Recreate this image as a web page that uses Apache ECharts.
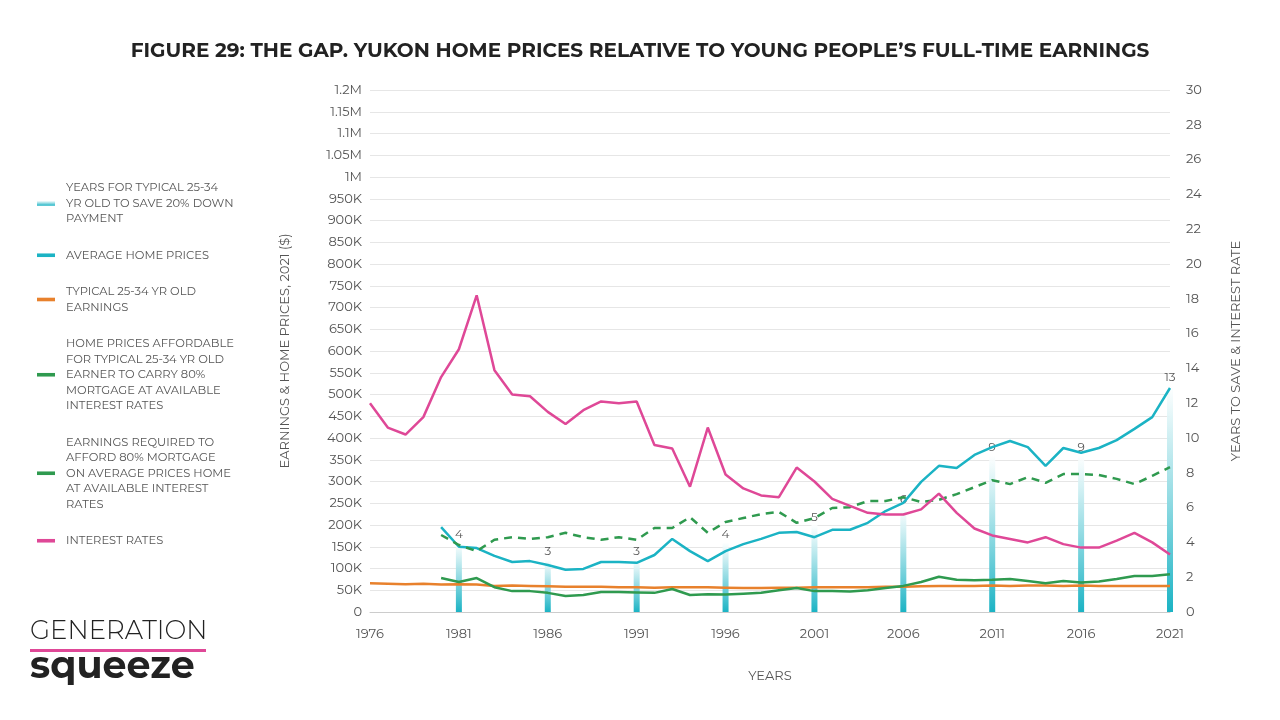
<!DOCTYPE html>
<html lang="en">
<head>
<meta charset="UTF-8">
<title>Figure 29</title>
<script src="https://cdn.jsdelivr.net/npm/echarts@6/dist/echarts.min.js"></script>
<style>
  body { margin: 0; background: #fff; }
  #main { width: 1280px; height: 720px; }
</style>
</head>
<body>
<div id="main"></div>
<script>
var years = [];
for (var y = 1976; y <= 2021; y++) years.push(String(y));

var saveYears = ['1981', '1986', '1991', '1996', '2001', '2006', '2011', '2016', '2021'];
var saveValues = [4, 3, 3, 4, 5, 6, 9, 9, 13];

var interestRates = [12.0, 10.6, 10.2, 11.2, 13.5, 15.1, 18.2, 13.9, 12.5, 12.4, 11.5, 10.8, 11.6, 12.1, 12.0, 12.1,
  9.6, 9.4, 7.2, 10.6, 7.9, 7.1, 6.7, 6.6, 8.3, 7.5, 6.5, 6.1, 5.7, 5.6, 5.6, 5.9, 6.8, 5.7, 4.8, 4.4,
  4.2, 4.0, 4.3, 3.9, 3.7, 3.7, 4.1, 4.55, 4.0, 3.3];

var homePrices = [null, null, null, null, 195, 150, 147, 129, 115, 117, 108, 97, 99, 115, 115, 113,
  131, 168, 140, 117, 140, 156, 168, 182, 184, 172, 189, 189, 205, 232, 251, 299, 336, 331, 361, 379,
  393, 379, 336, 377, 366, 377, 395, 421, 448, 515];

var affordable = [null, null, null, null, 177, 154, 140, 166, 172, 168, 172, 182, 172, 166, 172, 166,
  193, 193, 218, 182, 207, 216, 225, 230, 205, 216, 239, 241, 255, 255, 264, 253, 258, 271, 287, 303,
  294, 310, 297, 317, 317, 315, 306, 294, 313, 333];

var earningsRequired = [null, null, null, null, 78, 69, 78, 57, 48, 48, 44, 37, 39, 46, 46, 45,
  44, 53, 39, 41, 40, 42, 44, 50, 55, 48, 48, 47, 50, 55, 60, 69, 81, 74, 73, 74,
  76, 71, 66, 71, 68, 70, 76, 83, 83, 87];

var earnings = [66, 65, 64, 65, 63, 64, 63, 60, 61, 60, 59, 58, 58, 58, 57, 57, 56, 57, 57, 57, 56, 55,
  55, 56, 56, 57, 57, 57, 57, 58, 58, 59, 60, 60, 60, 61, 60, 61, 61, 60, 61, 60, 60, 60, 60, 60];

function k(arr) {
  return arr.map(function (v) { return v == null ? null : v * 1000; });
}

var barData = years.map(function (yr) {
  var i = saveYears.indexOf(yr);
  return i < 0 ? null : saveValues[i];
});

var teal = '#1bb3c4', orange = '#e8812c', green = '#2f9a4f', pink = '#df4897';
var font = 'Montserrat, "Open Sans", sans-serif';
var lineIcon = 'path://M0,0H20V4H0Z';

function fmtMoney(v) {
  if (v === 0) return '0';
  if (v >= 1000000) return (v / 1000000) + 'M';
  return (v / 1000) + 'K';
}

var myChart = echarts.init(document.getElementById('main'));
var option = {
  backgroundColor: '#fff',
  textStyle: { fontFamily: font },
  title: {
    text: 'FIGURE 29: THE GAP. YUKON HOME PRICES RELATIVE TO YOUNG PEOPLE\u2019S FULL-TIME EARNINGS',
    left: 'center', top: 36,
    textStyle: { fontSize: 20, fontWeight: 'bold', color: '#222', fontFamily: font }
  },
  legend: {
    orient: 'vertical', left: 32, top: 175, itemGap: 21,
    itemWidth: 18, itemHeight: 5,
    textStyle: { fontSize: 11.5, color: '#555', lineHeight: 15.5, fontFamily: font, padding: [0, 0, 0, 6] },
    data: [
      { name: 'YEARS FOR TYPICAL 25-34\nYR OLD TO SAVE 20% DOWN\nPAYMENT', icon: 'rect' },
      { name: 'AVERAGE HOME PRICES', icon: lineIcon },
      { name: 'TYPICAL 25-34 YR OLD\nEARNINGS', icon: lineIcon },
      { name: 'HOME PRICES AFFORDABLE\nFOR TYPICAL 25-34 YR OLD\nEARNER TO CARRY 80%\nMORTGAGE AT AVAILABLE\nINTEREST RATES', icon: lineIcon },
      { name: 'EARNINGS REQUIRED TO\nAFFORD 80% MORTGAGE\nON AVERAGE PRICES HOME\nAT AVAILABLE INTEREST\nRATES', icon: lineIcon },
      { name: 'INTEREST RATES', icon: lineIcon }
    ]
  },
  grid: { left: 370, right: 110, top: 90, bottom: 108 },
  xAxis: {
    type: 'category', data: years, boundaryGap: false,
    name: 'YEARS', nameLocation: 'middle', nameGap: 58,
    nameTextStyle: { fontSize: 13, color: '#555' },
    axisLine: { lineStyle: { color: '#ccc' } },
    axisTick: { show: false },
    axisLabel: { color: '#555', fontSize: 13, interval: 4, margin: 16 }
  },
  yAxis: [{
    type: 'value', min: 0, max: 1200000, interval: 50000,
    name: 'EARNINGS & HOME PRICES, 2021 ($)', nameLocation: 'middle', nameGap: 78,
    nameTextStyle: { fontSize: 13, color: '#555' },
    axisLine: { show: false }, axisTick: { show: false },
    axisLabel: { color: '#555', fontSize: 13, formatter: fmtMoney },
    splitLine: { lineStyle: { color: '#e6e6e6' } }
  }, {
    type: 'value', min: 0, max: 30, interval: 2,
    name: 'YEARS TO SAVE & INTEREST RATE', nameLocation: 'middle', nameGap: 60,
    nameTextStyle: { fontSize: 13, color: '#555' },
    axisLine: { show: false }, axisTick: { show: false },
    axisLabel: { color: '#555', fontSize: 13, margin: 16 },
    splitLine: { show: false }
  }],
  series: [{
    name: 'YEARS FOR TYPICAL 25-34\nYR OLD TO SAVE 20% DOWN\nPAYMENT',
    type: 'bar', yAxisIndex: 1, data: barData, barWidth: 6, barGap: '-100%',
    itemStyle: {
      color: new echarts.graphic.LinearGradient(0, 1, 0, 0, [
        { offset: 0, color: teal }, { offset: 1, color: 'rgba(255,255,255,0.9)' }
      ])
    },
    label: { show: true, position: 'top', color: '#555', fontSize: 12, distance: 2 },
    z: 1
  }, {
    name: 'AVERAGE HOME PRICES', type: 'line', data: k(homePrices),
    symbol: 'none', lineStyle: { color: teal, width: 2.5 }, itemStyle: { color: teal }, z: 3
  }, {
    name: 'TYPICAL 25-34 YR OLD\nEARNINGS', type: 'line', data: k(earnings),
    symbol: 'none', lineStyle: { color: orange, width: 2.5 }, itemStyle: { color: orange }, z: 3
  }, {
    name: 'HOME PRICES AFFORDABLE\nFOR TYPICAL 25-34 YR OLD\nEARNER TO CARRY 80%\nMORTGAGE AT AVAILABLE\nINTEREST RATES',
    type: 'line', data: k(affordable), symbol: 'none',
    lineStyle: { color: green, width: 2.5, type: [8, 6] }, itemStyle: { color: green }, z: 3
  }, {
    name: 'EARNINGS REQUIRED TO\nAFFORD 80% MORTGAGE\nON AVERAGE PRICES HOME\nAT AVAILABLE INTEREST\nRATES',
    type: 'line', data: k(earningsRequired),
    symbol: 'none', lineStyle: { color: green, width: 2.5 }, itemStyle: { color: green }, z: 3
  }, {
    name: 'INTEREST RATES', type: 'line', yAxisIndex: 1, data: interestRates,
    symbol: 'none', lineStyle: { color: pink, width: 2.5 }, itemStyle: { color: pink }, z: 3
  }],
  graphic: [{
    type: 'text', left: 30, top: 618,
    style: { text: 'GENERATION', fontSize: 26, fill: '#222', fontFamily: font, fontWeight: 300 }
  }, {
    type: 'rect', left: 30, top: 649, shape: { width: 176, height: 3 }, style: { fill: pink }
  }, {
    type: 'text', left: 30, top: 648,
    style: { text: 'squeeze', fontSize: 38, fill: '#222', fontFamily: font, fontWeight: 'bold' }
  }]
};
myChart.setOption(option);
</script>
</body>
</html>
